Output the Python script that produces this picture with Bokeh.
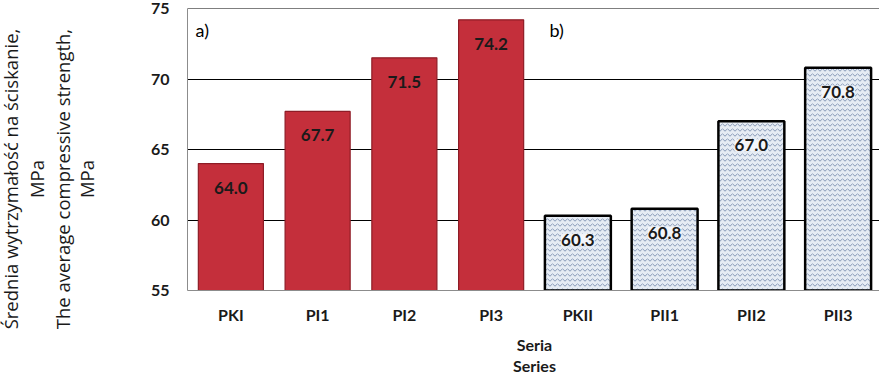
from bokeh.plotting import figure
from bokeh.models import ColumnDataSource, LabelSet, Label, Span, FixedTicker, Div
from bokeh.layouts import row
from bokeh.core.properties import value
from bokeh.embed import file_html
from bokeh.resources import INLINE

cats_a = ["PKI", "PI1", "PI2", "PI3"]
vals_a = [64.0, 67.7, 71.5, 74.2]
cats_b = ["PKII", "PII1", "PII2", "PII3"]
vals_b = [60.3, 60.8, 67.0, 70.8]
all_cats = cats_a + cats_b
y_ticks = [55, 60, 65, 70, 75]
y_min, y_max = 55, 75
y_title_lines = ["Średnia wytrzymałość na ściskanie,", "MPa",
                 "The average compressive strength,", "MPa"]
x_title = "Seria\nSeries"

FONT = "Lato"
H = 386          # figure height (page -8 .. 378)
W_T = 110        # width of the title strip
px_per_unit = (291 - 8) / (y_max - y_min)
lab_shift = 24 / px_per_unit

# ---------------- title strip (rotated y-axis titles, real HTML text) ----------------
cx_strip = [14, 40, 66, 90]
cy_strip = 182
spans = "".join(
    f'<div style="position:absolute;left:{cx}px;top:{cy_strip}px;'
    f'transform:translate(-50%,-50%) rotate(-90deg);white-space:nowrap;">{txt}</div>'
    for cx, txt in zip(cx_strip, y_title_lines))
t = Div(text=(f'<div style="position:relative;width:{W_T}px;height:{H}px;'
              f'font-family:\'Open Sans\';font-size:18.5px;color:#1a1a1a;line-height:1;">'
              f'{spans}</div>'),
        width=W_T, height=H)

# ---------------- main chart ----------------
p = figure(x_range=all_cats, y_range=(y_min, y_max), width=879 - W_T, height=H,
           output_backend="svg", toolbar_location=None,
           min_border_left=185 - W_T, min_border_right=0, min_border_top=16,
           min_border_bottom=H - (291 + 8))
p.outline_line_color = None
p.background_fill_color = "white"

p.xgrid.grid_line_color = None
p.ygrid.grid_line_color = "black"
p.ygrid.grid_line_width = 1
p.yaxis.ticker = FixedTicker(ticks=y_ticks)
p.add_layout(Span(location=y_max, dimension="width", line_color="black", line_width=1))

src_a = ColumnDataSource(dict(x=cats_a, top=vals_a, ly=[v - lab_shift for v in vals_a],
                              txt=[f"{v:.1f}" for v in vals_a]))
src_b = ColumnDataSource(dict(x=cats_b, top=vals_b, ly=[v - lab_shift for v in vals_b],
                              txt=[f"{v:.1f}" for v in vals_b]))

p.vbar(x="x", top="top", bottom=y_min, width=0.75, source=src_a,
       fill_color="#c42f3b", line_color="#8e1c26", line_width=1.2)
p.vbar(x="x", top="top", bottom=y_min, width=0.76, source=src_b,
       fill_color="#e6ecf4", hatch_pattern="horizontal_wave", hatch_color="#6d83a6",
       hatch_scale=5, hatch_weight=0.8, line_color="black", line_width=2.5)

p.add_layout(LabelSet(x="x", y="ly", text="txt", source=src_a, text_align="center",
                      text_baseline="middle", text_font=value(FONT), text_font_style="bold",
                      text_font_size="17px", text_color="#1a1a1a"))
p.add_layout(LabelSet(x="x", y="ly", text="txt", source=src_b, text_align="center",
                      text_baseline="middle", text_font=value(FONT), text_font_style="bold",
                      text_font_size="17px", text_color="#1a1a1a",
                      background_fill_color="#f4f7fb", background_fill_alpha=0.95))

for txt, xs in (("a)", 8), ("b)", 362)):
    p.add_layout(Label(x=xs, y=y_max, x_units="screen", y_offset=-21, text=txt,
                       text_font=FONT, text_font_size="18px", text_color="black",
                       text_baseline="middle"))

for ax in (p.xaxis, p.yaxis):
    ax.axis_line_color = "#8c8c8c"
    ax.major_tick_line_color = None
    ax.minor_tick_line_color = None
    ax.major_tick_out = 0
    ax.major_tick_in = 0
    ax.minor_tick_out = 0
    ax.minor_tick_in = 0
    ax.major_label_text_font = FONT
    ax.major_label_text_font_style = "bold"
    ax.major_label_text_font_size = "16px"
    ax.major_label_text_color = "#1a1a1a"

p.yaxis.major_label_standoff = 18
p.xaxis.major_label_standoff = 14

p.xaxis.axis_label = x_title
p.xaxis.axis_label_text_font = FONT
p.xaxis.axis_label_text_font_style = "bold"
p.xaxis.axis_label_text_font_size = "16px"
p.xaxis.axis_label_text_color = "#1a1a1a"
p.xaxis.axis_label_standoff = 8
p.xaxis.axis_label_text_line_height = 1.15

layout = row(t, p, spacing=0)
layout.styles = {"margin-top": "-8px", "margin-left": "-8px"}

open("out.html", "w").write(file_html(layout, INLINE))
